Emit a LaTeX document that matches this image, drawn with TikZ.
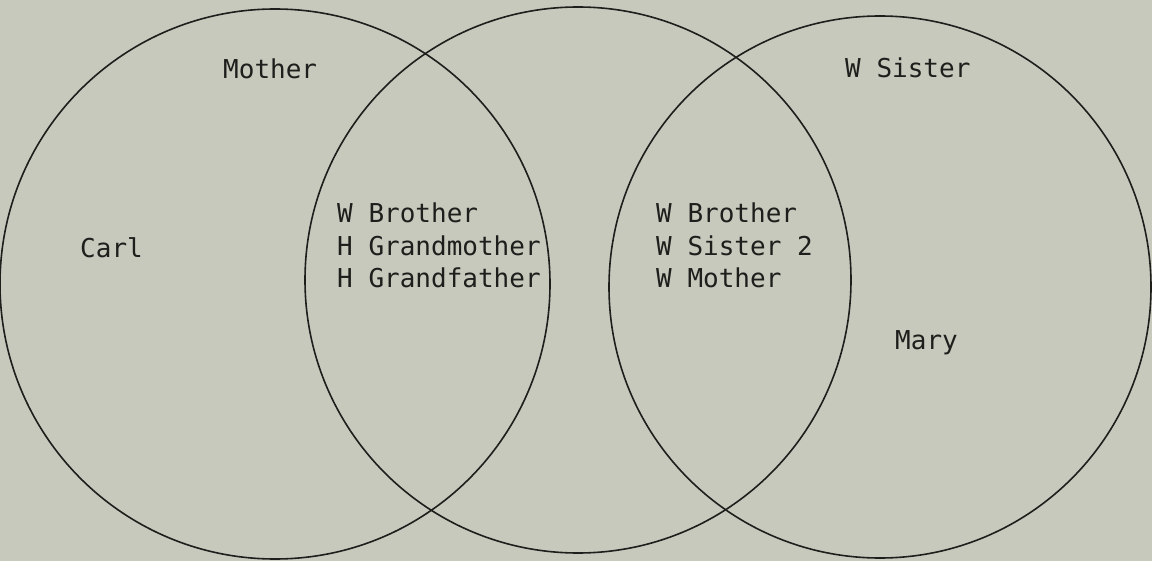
\documentclass[tikz,border=0pt]{standalone}
\usepackage{fontspec}
\newfontfamily\monofam{DejaVu Sans Mono}
\definecolor{paper}{RGB}{200,201,189}
\definecolor{ink}{RGB}{30,30,28}
\begin{document}
\begin{tikzpicture}[x=1pt,y=-1pt,
  ring/.style={draw=ink,line width=1.6pt},
  lbl/.style={inner sep=0pt,anchor=base west,text=ink,font=\monofam\fontsize{26}{32}\selectfont}]
\fill[paper] (0,0) rectangle (1152,561);
\useasboundingbox (0,0) rectangle (1152,561);
\draw[ring] (275,284) circle[radius=275];
\draw[ring] (578,280) circle[radius=273];
\draw[ring] (880,287) circle[radius=271];
\node[lbl] (mother) at (223,79) {Mother};
\node[lbl] (wsister) at (845,78) {W Sister};
\node[lbl] (carl) at (80,258) {Carl};
\node[lbl] (mary) at (895,350) {Mary};
\node[lbl] (a1) at (337,223) {W Brother};
\node[lbl] (a2) at (337,256) {H Grandmother};
\node[lbl] (a3) at (337,288) {H Grandfather};
\node[lbl] (b1) at (656,223) {W Brother};
\node[lbl] (b2) at (656,256) {W Sister 2};
\node[lbl] (b3) at (656,288) {W Mother};
\end{tikzpicture}
\end{document}
